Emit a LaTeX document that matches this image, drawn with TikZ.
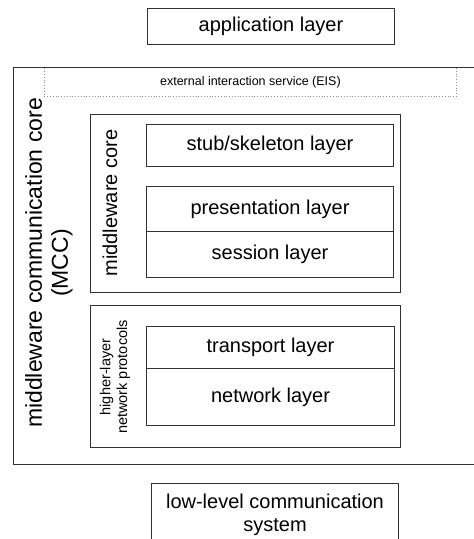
\documentclass[tikz,border=0pt]{standalone}
\usepackage{fontspec}
\setmainfont{Liberation Sans}
\begin{document}
\begin{tikzpicture}[x=1pt,y=-1pt,
  box/.style={draw=black!80, line width=1pt, inner sep=0pt, rectangle, anchor=north west},
  lbl/.style={font=\fontsize{20}{23}\selectfont},
  eis/.style={draw=black!45, line width=0.8pt, dotted, inner sep=0pt, rectangle, anchor=north west},
]
\useasboundingbox (0,0) rectangle (474,539);
\clip (0,0) rectangle (474,539);

% application layer on top
\node[box, lbl, minimum width=247, minimum height=36] (app) at (147,8) {application layer};

% middleware communication core (open to the right)
\node[box, minimum width=480, minimum height=397] (mcc) at (13,67) {};
\node[eis, minimum width=412, minimum height=29] (eis) at (44,67) {};
\draw[black!80, line width=1pt] (mcc.north west) -- (mcc.north east);
\node[font=\fontsize{12.5}{15}\selectfont] (eistext) at (eis.center) {external interaction service (EIS)};
\node[rotate=90, align=center, font=\fontsize{23}{26}\selectfont] (mcclabel) at (49,263)
  {middleware communication core\\(MCC)};

% middleware core
\node[box, minimum width=310, minimum height=178] (mwc) at (90,114) {};
\node[rotate=90, lbl] (mwclabel) at (110,203) {middleware core};
\node[box, lbl, minimum width=247, minimum height=42] (stub) at (146,124) {stub/skeleton layer};
\node[box, lbl, minimum width=247, minimum height=45] (pres) at (146,186) {presentation layer};
\node[box, lbl, minimum width=247, minimum height=46] (sess) at (146,231) {session layer};

% higher-layer network protocols
\node[box, minimum width=310, minimum height=142] (hlp) at (90,305) {};
\node[rotate=90, align=center, font=\fontsize{14.5}{17}\selectfont] (hlplabel) at (115,377)
  {higher-layer\\network protocols};
\node[box, lbl, minimum width=248, minimum height=42] (trans) at (146,326) {transport layer};
\node[box, lbl, minimum width=248, minimum height=57] (net) at (146,368) {network layer};

% low-level communication system
\node[box, minimum width=247, minimum height=80] (llc) at (151,483) {};
\node[lbl, align=center, anchor=north] (llctext) at (llc.north) [yshift=-7pt]
  {low-level communication\\system};
\end{tikzpicture}
\end{document}
